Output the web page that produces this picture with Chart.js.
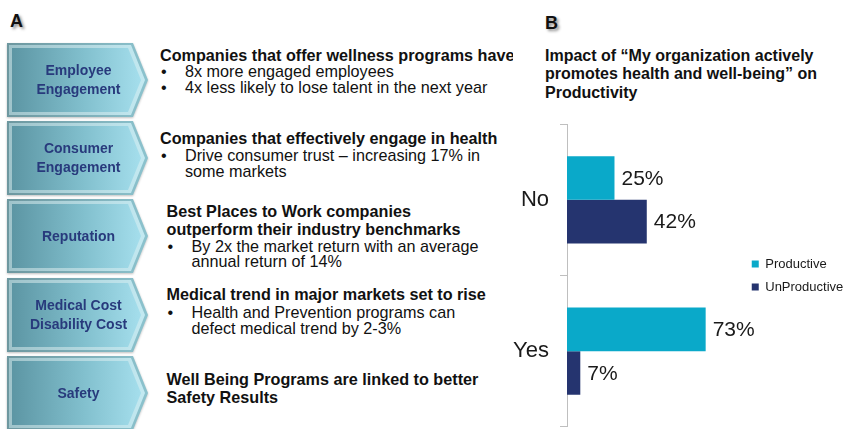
<!DOCTYPE html>
<html>
<head>
<meta charset="utf-8">
<script src="https://cdn.jsdelivr.net/npm/chart.js@4.4.1/dist/chart.umd.min.js"></script>
<style>
  body { margin: 0; background: #fff; font-family: "Liberation Sans", Arial, sans-serif; }
  #page { position: relative; width: 849px; height: 429px; overflow: hidden; }
  .panel-letter { position: absolute; font-weight: bold; font-size: 18px; color: #111;
    text-shadow: 2px 2px 3px rgba(0, 0, 0, 0.45); }
  .chev-wrap { position: absolute; left: 7px; width: 141px; height: 74px;
    filter: drop-shadow(0 1px 1px rgba(0, 0, 0, 0.25)); }
  .chev { position: absolute; inset: 0;
    clip-path: polygon(0 0, 126px 0, 141px 37px, 126px 74px, 0 74px);
    background: linear-gradient(90deg, #6d979f, #8cc3ce); }
  .chev .rim { position: absolute; inset: 0;
    clip-path: polygon(2px 2px, 124px 2px, 138px 37px, 124px 72px, 2px 72px);
    background: linear-gradient(90deg, #9fc3ca, #c4eaf2); }
  .chev .face { position: absolute; inset: 0;
    clip-path: polygon(5px 5px, 121px 5px, 134px 37px, 121px 69px, 5px 69px);
    background: linear-gradient(90deg, #5a93a1 0%, #82c0ce 55%, #a9e2f0 100%);
    display: flex; align-items: center; justify-content: center; text-align: center;
    color: #283a7c; font-weight: bold; font-size: 14px; line-height: 19px; padding-left: 2px; }
  .line { position: absolute; white-space: nowrap; font-size: 16.2px; line-height: 19px; color: #111; }
  .line.b { font-weight: bold; }
  #textcol { position: absolute; left: 0; top: 0; width: 513px; height: 429px; overflow: hidden; }
  #title { position: absolute; left: 545px; top: 47px; font-weight: bold; font-size: 16px;
    line-height: 18.3px; color: #111; }
  #chartBox { position: absolute; left: 420px; top: 100px; width: 429px; height: 351px; }
</style>
</head>
<body>
<div id="page">
  <div class="panel-letter" style="left:10px; top:11px;">A</div>
  <div class="panel-letter" style="left:545px; top:13px;">B</div>
  <div id="textcol"></div>
  <div id="title">Impact of “My organization actively<br>promotes health and well-being” on<br>Productivity</div>
  <div id="chartBox"><canvas id="chart"></canvas></div>
</div>
<script>
// left panel: driver chevrons and their findings
const driverNames = [
  "Employee<br>Engagement",
  "Consumer<br>Engagement",
  "Reputation",
  "Medical Cost<br>Disability Cost",
  "Safety"
];
const driverTops = [43, 121, 199, 278, 356];

// [x, baseline, bold, bullet, text]
const findingLines = [
  [160, 60.7, true, false, "Companies that offer wellness programs have"],
  [185, 77, false, true, "8x more engaged employees"],
  [185, 93.5, false, true, "4x less likely to lose talent in the next year"],
  [160, 144, true, false, "Companies that effectively engage in health"],
  [185, 161.5, false, true, "Drive consumer trust – increasing 17% in"],
  [185, 177, false, false, "some markets"],
  [166.5, 217.5, true, false, "Best Places to Work companies"],
  [166.5, 235, true, false, "outperform their industry benchmarks"],
  [191.5, 251.7, false, true, "By 2x the market return with an average"],
  [191.5, 267.3, false, false, "annual return of 14%"],
  [166.5, 300, true, false, "Medical trend in major markets set to rise"],
  [191.5, 317.7, false, true, "Health and Prevention programs can"],
  [191.5, 334, false, false, "defect medical trend by 2-3%"],
  [166.5, 385, true, false, "Well Being Programs are linked to better"],
  [166.5, 402.7, true, false, "Safety Results"]
];

// top of a 19px line box whose baseline sits at `base` (16.2px Liberation Sans)
const lineTop = (base) => base - (19 - 1.117 * 16.2) / 2 - 0.905 * 16.2;

const col = document.getElementById("textcol");
driverNames.forEach((name, i) => {
  const wrap = document.createElement("div");
  wrap.className = "chev-wrap";
  wrap.style.top = driverTops[i] + "px";
  wrap.innerHTML = `<div class="chev"><div class="rim"></div><div class="face">${name}</div></div>`;
  col.appendChild(wrap);
});
findingLines.forEach(([x, base, bold, bullet, text]) => {
  const el = document.createElement("div");
  el.className = bold ? "line b" : "line";
  el.style.left = x + "px";
  el.style.top = lineTop(base) + "px";
  el.textContent = text;
  col.appendChild(el);
  if (bullet) {
    const dot = document.createElement("div");
    dot.className = "line";
    dot.style.left = (x - 24) + "px";
    dot.style.top = lineTop(base) + "px";
    dot.textContent = "•";
    col.appendChild(dot);
  }
});

// right panel: productivity chart
const answers = ["No", "Yes"];
const productive = [25, 73];
const unproductive = [42, 7];

const valueLabels = {
  id: "valueLabels",
  afterDatasetsDraw(chart) {
    const { ctx } = chart;
    ctx.save();
    ctx.font = '21px "Liberation Sans", Arial, sans-serif';
    ctx.fillStyle = "#1a1a1a";
    ctx.textBaseline = "middle";
    ctx.textAlign = "left";
    chart.data.datasets.forEach((ds, di) => {
      chart.getDatasetMeta(di).data.forEach((bar, i) => {
        ctx.fillText(ds.data[i] + "%", bar.x + 7, bar.y + 1);
      });
    });
    ctx.restore();
  }
};

new Chart(document.getElementById("chart"), {
  type: "bar",
  data: {
    labels: answers,
    datasets: [
      { label: "Productive", data: productive, backgroundColor: "#0aa9c9" },
      { label: "UnProductive", data: unproductive, backgroundColor: "#25346f" }
    ]
  },
  options: {
    indexAxis: "y",
    responsive: true,
    maintainAspectRatio: false,
    animation: false,
    layout: { padding: 0 },
    categoryPercentage: 0.576,
    barPercentage: 1,
    plugins: {
      legend: {
        position: "right",
        labels: {
          boxWidth: 7,
          boxHeight: 7,
          padding: 10,
          color: "#1a1a1a",
          font: { family: '"Liberation Sans", Arial, sans-serif', size: 13 }
        }
      },
      tooltip: { enabled: false }
    },
    scales: {
      x: { display: false, min: 0, max: 92 },
      y: {
        // keeps the axis line at a fixed spot regardless of label width
        afterFit(scale) { scale.width = 147; },
        border: { color: "#bfbfbf" },
        grid: { drawOnChartArea: false, tickLength: 7, color: "#bfbfbf" },
        ticks: {
          padding: 11,
          color: "#1a1a1a",
          font: { family: '"Liberation Sans", Arial, sans-serif', size: 22 }
        }
      }
    }
  },
  plugins: [valueLabels]
});
</script>
</body>
</html>
